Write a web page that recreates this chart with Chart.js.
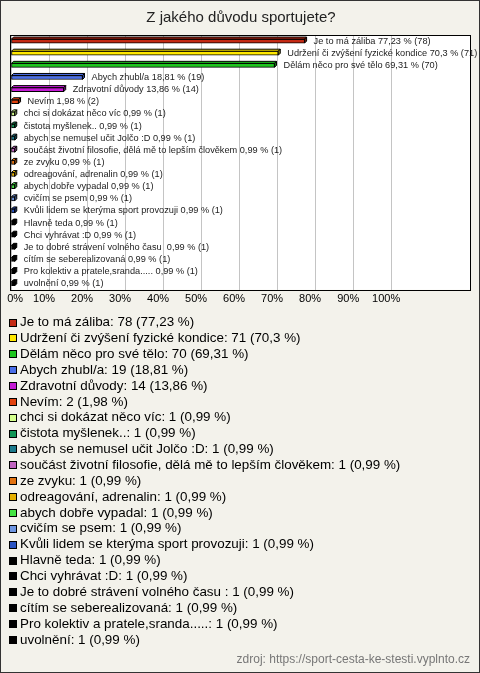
<!DOCTYPE html>
<html>
<head>
<meta charset="utf-8">
<script src="https://cdn.jsdelivr.net/npm/chart.js@4"></script>
<style>
  html, body { margin: 0; padding: 0; background: #f3f2eb; }
  #wrap { width: 480px; height: 673px; }
</style>
</head>
<body>
<div id="wrap"><canvas id="chart" width="480" height="673"></canvas></div>
<script>
// survey answers, in the order shown
const categories = [
  "Je to má záliba",
  "Udržení či zvýšení fyzické kondice",
  "Dělám něco pro své tělo",
  "Abych zhubl/a",
  "Zdravotní důvody",
  "Nevím",
  "chci si dokázat něco víc",
  "čistota myšlenek..",
  "abych se nemusel učit Jolčo :D",
  "součást životní filosofie, dělá mě to lepším člověkem",
  "ze zvyku",
  "odreagování, adrenalin",
  "abych dobře vypadal",
  "cvičím se psem",
  "Kvůli lidem se kterýma sport provozuji",
  "Hlavně teda",
  "Chci vyhrávat :D",
  "Je to dobré strávení volného času ",
  "cítím se seberealizovaná",
  "Pro kolektiv a pratele,sranda.....",
  "uvolnění"
];
const counts = [78, 71, 70, 19, 14, 2, 1, 1, 1, 1, 1, 1, 1, 1, 1, 1, 1, 1, 1, 1, 1];
const percents = [77.23, 70.3, 69.31, 18.81, 13.86, 1.98, 0.99, 0.99, 0.99, 0.99, 0.99,
  0.99, 0.99, 0.99, 0.99, 0.99, 0.99, 0.99, 0.99, 0.99, 0.99];
const tickValues = [0, 10, 20, 30, 40, 50, 60, 70, 80, 90, 100];

const colors = [
  "#c42a14", "#ffe800", "#1ec41e", "#4a6ee8", "#c41ad4", "#e2420e",
  "#d4ff8c", "#109656", "#1c7a8c", "#c064c0", "#e27210", "#e6b000",
  "#44e444", "#6e96e2", "#2a54c2", "#000000", "#000000", "#000000",
  "#000000", "#000000", "#000000"
];

const FONT = "'Liberation Sans', Arial, sans-serif";
const fmt = (v) => String(v).replace(".", ",");

// darken a hex colour for the side face of the 3d bars
function shade(hex, f) {
  const n = parseInt(hex.slice(1), 16);
  const r = Math.round(((n >> 16) & 255) * f);
  const g = Math.round(((n >> 8) & 255) * f);
  const b = Math.round((n & 255) * f);
  return `rgb(${r},${g},${b})`;
}

const framePlugin = {
  id: "frame",
  beforeDraw(chart) {
    const { ctx, chartArea: a } = chart;
    ctx.save();
    ctx.fillStyle = "#f3f2eb";
    ctx.fillRect(0, 0, chart.width, chart.height);
    ctx.strokeStyle = "#333";
    ctx.lineWidth = 1;
    ctx.strokeRect(0.5, 0.5, chart.width - 1, chart.height - 1);
    ctx.fillStyle = "#fff";
    ctx.fillRect(a.left, a.top, a.right - a.left, a.bottom - a.top);
    ctx.restore();
  },
  afterDatasetsDraw(chart) {
    // fake 3d: top and right faces of every bar
    const { ctx } = chart;
    const meta = chart.getDatasetMeta(0);
    const d = 2;
    ctx.save();
    ctx.lineWidth = 1;
    ctx.strokeStyle = "#000";
    meta.data.forEach((bar, i) => {
      const { x, y, base, height } = bar.getProps(["x", "y", "base", "height"], true);
      const top = y - height / 2;
      const bottom = y + height / 2;
      ctx.beginPath();
      ctx.moveTo(base, top);
      ctx.lineTo(base + d, top - d);
      ctx.lineTo(x + d, top - d);
      ctx.lineTo(x, top);
      ctx.closePath();
      ctx.fillStyle = colors[i];
      ctx.fill();
      ctx.stroke();
      ctx.beginPath();
      ctx.moveTo(x, top);
      ctx.lineTo(x + d, top - d);
      ctx.lineTo(x + d, bottom - d);
      ctx.lineTo(x, bottom);
      ctx.closePath();
      ctx.fillStyle = shade(colors[i], 0.6);
      ctx.fill();
      ctx.stroke();
    });
    ctx.restore();
  },
  afterDraw(chart) {
    const { ctx, chartArea: a } = chart;
    const meta = chart.getDatasetMeta(0);
    ctx.save();
    // plot box
    ctx.strokeStyle = "#000";
    ctx.lineWidth = 1;
    ctx.strokeRect(Math.round(a.left) - 0.5, Math.round(a.top) + 0.5,
      Math.round(a.right - a.left), Math.round(a.bottom - a.top));

    // value labels next to the bars
    ctx.font = "9.2px " + FONT;
    ctx.fillStyle = "#222";
    ctx.textBaseline = "middle";
    ctx.textAlign = "left";
    meta.data.forEach((bar, i) => {
      const txt = `${categories[i]} ${fmt(percents[i])} % (${counts[i]})`;
      ctx.fillText(txt, bar.x + 9, bar.y);
    });

    // legend list under the chart
    ctx.font = "13.4px " + FONT;
    categories.forEach((c, i) => {
      const y = 322.5 + i * 15.87;
      ctx.fillStyle = "#000";
      ctx.fillRect(9, Math.round(y - 4), 8, 8);
      ctx.fillStyle = colors[i];
      ctx.fillRect(10, Math.round(y - 3), 6, 6);
      ctx.fillStyle = "#000";
      ctx.fillText(`${c}: ${counts[i]} (${fmt(percents[i])} %)`, 20, y);
    });

    // source note
    ctx.font = "12px " + FONT;
    ctx.fillStyle = "#777";
    ctx.textAlign = "right";
    ctx.fillText("zdroj: https://sport-cesta-ke-stesti.vyplnto.cz", 470, 660);
    ctx.restore();
  }
};

new Chart(document.getElementById("chart"), {
  type: "bar",
  data: {
    labels: categories,
    datasets: [{
      data: percents,
      backgroundColor: colors,
      borderColor: "#000",
      borderWidth: 1,
      borderSkipped: false,
      barThickness: 4
    }]
  },
  options: {
    indexAxis: "y",
    responsive: false,
    animation: false,
    layout: { padding: { left: 11, right: 9, top: 0, bottom: 364 } },
    scales: {
      x: {
        min: 0,
        max: 121,
        afterBuildTicks: (scale) => {
          scale.ticks = tickValues.map((v) => ({ value: v }));
        },
        // keep the plot box where it is, the first label may overhang
        afterFit: (scale) => {
          scale.paddingLeft = 0;
        },
        grid: { color: "#c4c4c4", drawTicks: false },
        border: { display: false },
        ticks: {
          // first label sits right of its line, the rest slightly left
          callback: (v) => (v === 0 ? "      " : "") + v + "%",
          font: { family: FONT, size: 11 },
          color: "#000",
          padding: 3,
          labelOffset: -5,
          maxRotation: 0,
          autoSkip: false
        }
      },
      y: { display: false }
    },
    plugins: {
      legend: { display: false },
      tooltip: { enabled: false },
      title: {
        display: true,
        text: "Z jakého důvodu sportujete?",
        font: { family: FONT, size: 15, weight: "normal" },
        color: "#222",
        padding: { top: 9, bottom: 8 }
      }
    }
  },
  plugins: [framePlugin]
});
</script>
</body>
</html>
